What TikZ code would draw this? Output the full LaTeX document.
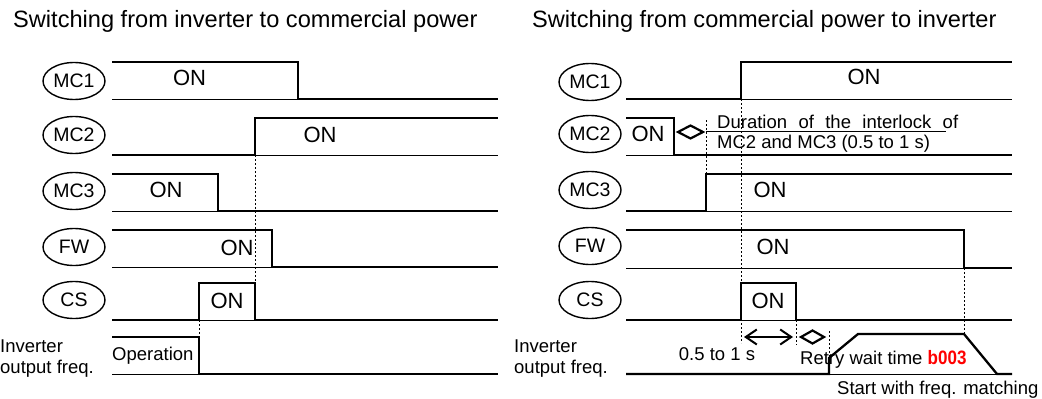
\documentclass[tikz,border=0pt]{standalone}
\usepackage{fontspec}
\setmainfont{Liberation Sans}
\usepackage{graphicx}
\usetikzlibrary{arrows.meta,shapes.geometric}
\definecolor{segred}{RGB}{255,0,0}
\begin{document}
\begin{tikzpicture}[x=1pt,y=-1pt,
  sig/.style={line width=2.3pt, line join=miter},
  baseln/.style={line width=1pt},
  guide/.style={line width=0.8pt, dash pattern=on 2pt off 2pt},
  lab/.style={ellipse, draw, line width=1.4pt, minimum width=62pt, minimum height=37pt, inner sep=0pt, font=\fontsize{19.5}{21}\selectfont},
  onlab/.style={font=\fontsize{22}{24}\selectfont, anchor=base, inner sep=0pt},
  txt/.style={font=\fontsize{18.5}{21}\selectfont, inner sep=0pt, anchor=base west},
  ttl/.style={font=\fontsize{23.6}{26}\selectfont, anchor=base west, inner sep=0pt},
  gap/.style={line width=2.2pt, line join=miter},
  dbl/.style={line width=2pt, {Straight Barb[length=11pt,width=15pt]}-{Straight Barb[length=11pt,width=15pt]}},
]
\useasboundingbox (0,0) rectangle (1042,399);

% titles
\node[ttl] (t1) at (13,27) {Switching from inverter to commercial power};
\node[ttl] (t2) at (532,27) {Switching from commercial power to inverter};

% ===================== LEFT PANEL =====================
\node[lab] (lmc1) at (74,81) {MC1};
\node[lab] (lmc2) at (74,135) {MC2};
\node[lab] (lmc3) at (74,191) {MC3};
\node[lab] (lfw)  at (74,247) {FW};
\node[lab] (lcs)  at (74,300) {CS};
\node[txt] (linv1) at (0,352) {Inverter};
\node[txt] (linv2) at (0,373) {output freq.};

% MC1
\draw[baseln] (112,99) -- (298,99);
\draw[sig] (112,62) -- (298,62) -- (298,99) -- (498,99);
\node[onlab] (lon1) at (189.5,85) {ON};
% MC2
\draw[baseln] (255,155) -- (498,155);
\draw[sig] (112,155) -- (255,155) -- (255,118) -- (498,118);
\node[onlab] (lon2) at (320,142) {ON};
% MC3
\draw[baseln] (112,211) -- (218,211);
\draw[sig] (112,174) -- (218,174) -- (218,211) -- (498,211);
\node[onlab] (lon3) at (166,197) {ON};
% FW
\draw[baseln] (112,267) -- (272,267);
\draw[sig] (112,230) -- (272,230) -- (272,267) -- (498,267);
\node[onlab] (lon4) at (237,255) {ON};
% CS
\draw[baseln] (199,320) -- (255,320);
\draw[sig] (112,320) -- (199,320) -- (199,283) -- (255,283) -- (255,320) -- (498,320);
\node[onlab] (lon5) at (227,308) {ON};
% Inverter output
\draw[baseln] (112,374) -- (199,374);
\draw[sig] (112,337) -- (199,337) -- (199,374) -- (498,374);
\node[txt] (lop) at (112,360) {Operation};
% guides
\draw[guide] (255,155) -- (255,320);
\draw[guide] (199,320) -- (199,337);

% ===================== RIGHT PANEL =====================
\node[lab] (rmc1) at (590,82) {MC1};
\node[lab] (rmc2) at (590,134) {MC2};
\node[lab] (rmc3) at (590,190) {MC3};
\node[lab] (rfw)  at (590,246) {FW};
\node[lab] (rcs)  at (590,300) {CS};
\node[txt] (rinv1) at (514,352) {Inverter};
\node[txt] (rinv2) at (514,373) {output freq.};

% MC1
\draw[baseln] (741,99) -- (1012,99);
\draw[sig] (626,99) -- (741,99) -- (741,62) -- (1012,62);
\node[onlab] (ron1) at (864,84) {ON};
% MC2
\draw[baseln] (626,155) -- (674,155);
\draw[sig] (626,118) -- (674,118) -- (674,155) -- (1012,155);
\node[onlab] (ron2) at (648,141) {ON};
% MC3
\draw[baseln] (706,211) -- (1012,211);
\draw[sig] (626,211) -- (706,211) -- (706,174) -- (1012,174);
\node[onlab] (ron3) at (770,197) {ON};
% FW
\draw[baseln] (626,268) -- (964,268);
\draw[sig] (626,230) -- (964,230) -- (964,268) -- (1012,268);
\node[onlab] (ron4) at (773,254) {ON};
% CS
\draw[baseln] (741,320) -- (796,320);
\draw[sig] (626,320) -- (741,320) -- (741,283) -- (796,283) -- (796,320) -- (1012,320);
\node[onlab] (ron5) at (768,308) {ON};
% Inverter output
\draw[baseln] (829,374) -- (997,374);
\draw[sig] (626,374) -- (829,374) -- (829,358) -- (858,334) -- (964,334) -- (997,374) -- (1012,374);

% guides
\draw[guide] (706,120) -- (706,211);
\draw[guide] (741,99) -- (741,343);
\draw[guide] (796,320) -- (796,345);
\draw[guide] (829,331) -- (829,374);
\draw[guide] (964,268) -- (964,334);

% interlock annotation
\coordinate (d1a) at (678,132);
\coordinate (d1b) at (703,132);
\draw[gap] (d1a) -- (690.5,125.5) -- (d1b) -- (690.5,138.5) -- cycle;
\draw[line width=0.9pt] (706,131) -- (946,131);
\node[txt] (dur1) at (717,128) {\hbox to 241pt{Duration\hfill of\hfill the\hfill interlock\hfill of}};
\node[txt] (dur2) at (717,148) {MC2 and MC3 (0.5 to 1 s)};

% bottom annotations
\coordinate (a1) at (744,337);
\coordinate (a2) at (793,337);
\draw[dbl] (a1) -- (a2);
\node[txt, anchor=base] (t05) at (717,360) {0.5 to 1 s};
\coordinate (d2a) at (801,337);
\coordinate (d2b) at (824,337);
\draw[gap] (d2a) -- (812.5,330.5) -- (d2b) -- (812.5,343.5) -- cycle;
\node[txt] (retry) at (800,364) {Retry wait time \textcolor{segred}{\bfseries\scalebox{0.92}[1.05]{b003}}};
\node[txt] (start) at (837,394) {Start with freq. matching};
\end{tikzpicture}
\end{document}
